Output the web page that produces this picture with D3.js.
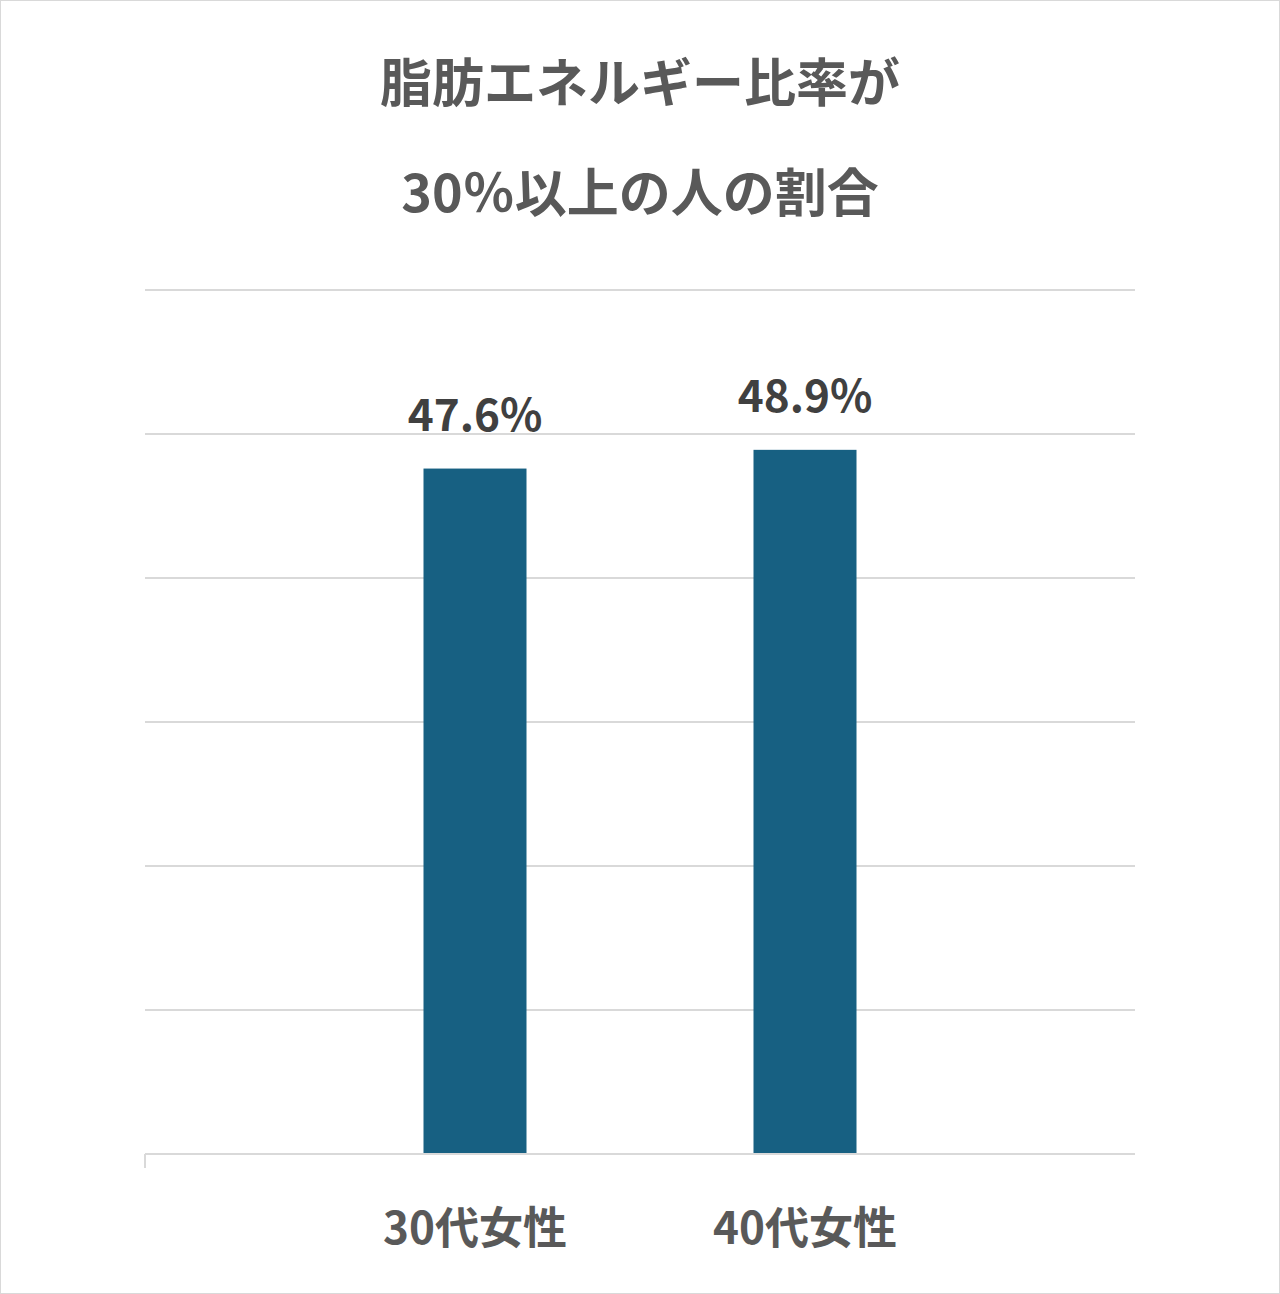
<!DOCTYPE html>
<html><head><meta charset="utf-8">
<script src="https://cdn.jsdelivr.net/npm/d3@7"></script>
<style>body{margin:0;background:#fff}</style>
</head><body>
<svg id="chart" width="1280" height="1294"></svg>
<script>
const categories = ["30代女性", "40代女性"];
const values = [47.6, 48.9];
const yTicks = [0, 10, 20, 30, 40, 50, 60];
const titleLines = ["脂肪エネルギー比率が", "30％以上の人の割合"];

const svg = d3.select("#chart");
const font = "'Noto Sans CJK JP', 'Noto Sans', sans-serif";

svg.append("rect").attr("x", 0.5).attr("y", 0.5).attr("width", 1279).attr("height", 1293)
  .attr("fill", "#fff").attr("stroke", "#d9d9d9");

svg.selectAll(".title").data(titleLines).join("text")
  .attr("x", 640).attr("y", (d, i) => 102 + i * 110)
  .attr("text-anchor", "middle").attr("font-family", font)
  .attr("font-size", 52).attr("font-weight", "bold").attr("fill", "#595959")
  .text(d => d);

const y = d3.scaleLinear().domain([0, 60]).range([1154, 290]);
const x = d3.scaleBand().domain(categories).range([310, 970]);
const barW = 103;

svg.selectAll(".grid").data(yTicks.slice(1)).join("line")
  .attr("x1", 145).attr("x2", 1135).attr("y1", d => y(d)).attr("y2", d => y(d))
  .attr("stroke", "#d9d9d9").attr("stroke-width", 2);

svg.selectAll(".bar").data(values).join("rect")
  .attr("x", (d, i) => x(categories[i]) + x.bandwidth() / 2 - barW / 2)
  .attr("width", barW)
  .attr("y", d => y(d)).attr("height", d => y(0) - y(d))
  .attr("fill", "#176082");

svg.append("line").attr("x1", 145).attr("x2", 1135).attr("y1", y(0)).attr("y2", y(0))
  .attr("stroke", "#d9d9d9").attr("stroke-width", 2);
svg.append("line").attr("x1", 145).attr("x2", 145).attr("y1", y(0)).attr("y2", y(0) + 14)
  .attr("stroke", "#d9d9d9").attr("stroke-width", 2);

svg.selectAll(".lbl").data(values).join("text")
  .attr("x", (d, i) => x(categories[i]) + x.bandwidth() / 2)
  .attr("y", d => y(d) - 38)
  .attr("text-anchor", "middle").attr("font-family", font)
  .attr("font-size", 44).attr("font-weight", "bold").attr("fill", "#404040")
  .text(d => d.toFixed(1) + "%");

svg.selectAll(".cat").data(categories).join("text")
  .attr("x", d => x(d) + x.bandwidth() / 2).attr("y", 1244)
  .attr("text-anchor", "middle").attr("font-family", font)
  .attr("font-size", 44).attr("font-weight", "bold").attr("fill", "#595959")
  .text(d => d);
</script>
</body></html>
